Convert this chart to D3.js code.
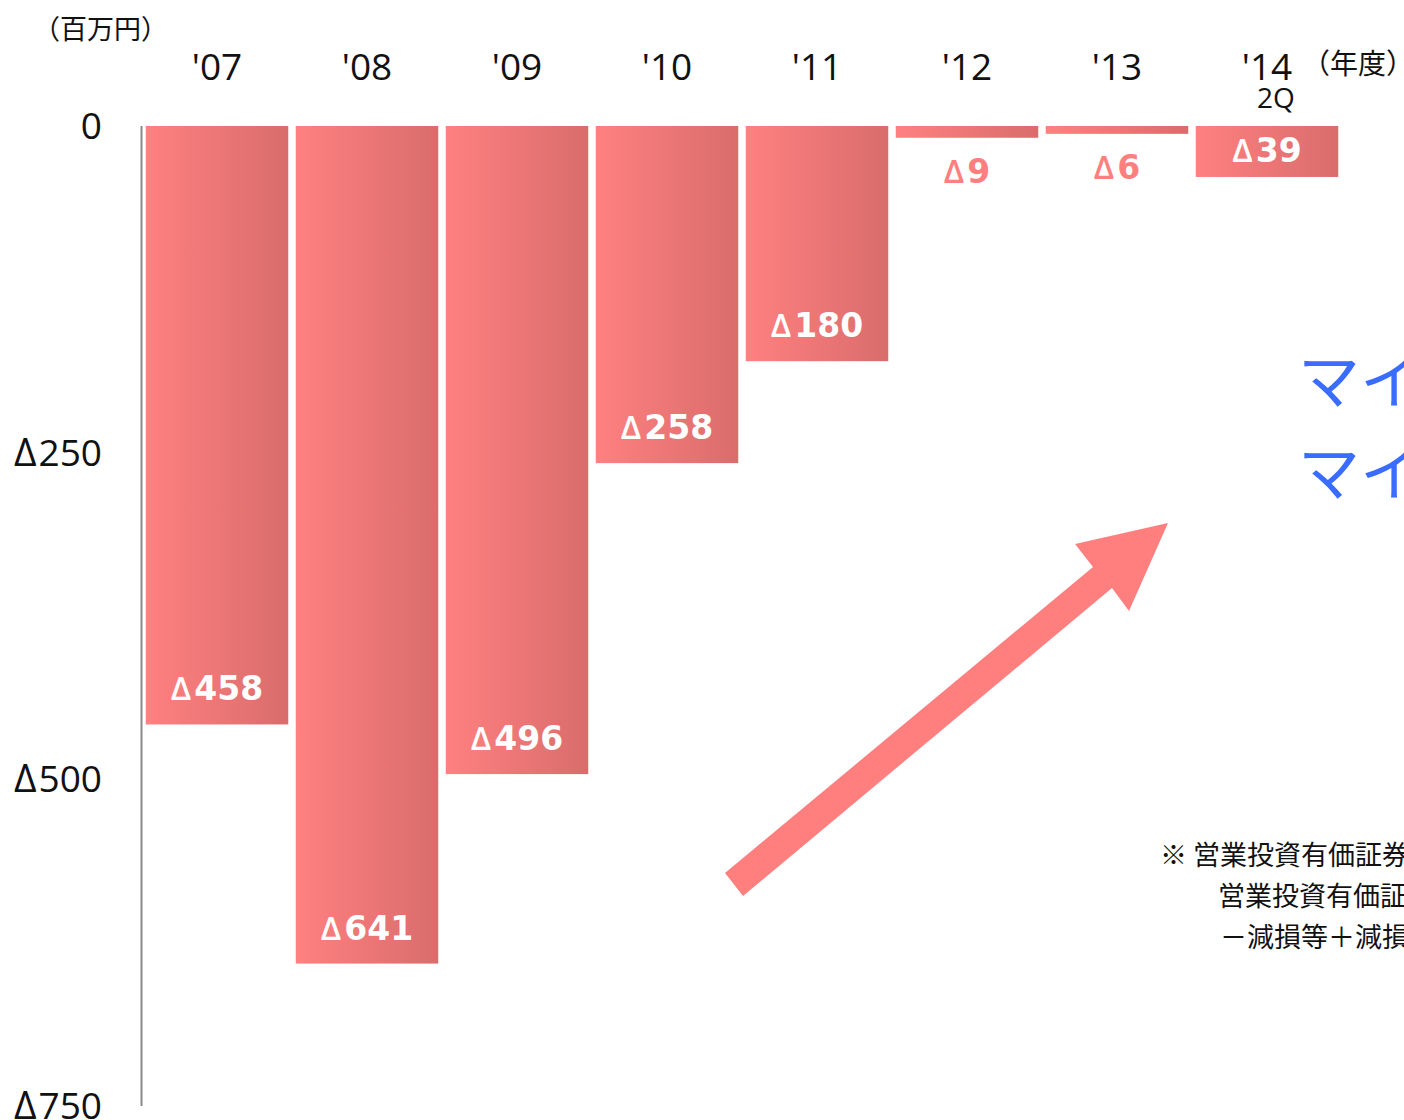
<!DOCTYPE html>
<html>
<head>
<meta charset="utf-8">
<script src="https://cdn.jsdelivr.net/npm/d3@7"></script>
<style>
  body { margin: 0; background: #fff; }
  svg { display: block; }
</style>
</head>
<body>
<script>
// data (losses, 百万円)
let years = ["'07", "'08", "'09", "'10", "'11", "'12", "'13", "'14"];
let losses = [458, 641, 496, 258, 180, 9, 6, 39];
let yTicks = [0, 250, 500, 750];
let noteLines = ["※ 営業投資有価証券損益＝", "営業投資有価証券売却益", "－減損等＋減損戻入益"];
let blueLines = ["マイナス幅は縮小", "マイナス解消へ"];

let W = 1404, H = 1120;
let jp = "'Noto Sans CJK JP', sans-serif";
let lat = "'Open Sans', 'Noto Sans', sans-serif";
let bold = "'DejaVu Sans', 'Open Sans', sans-serif";

let svg = d3.select("body").append("svg").attr("width", W).attr("height", H);

let defs = svg.append("defs");
let grad = defs.append("linearGradient").attr("id", "barGrad")
    .attr("x1", "0%").attr("x2", "100%").attr("y1", "0%").attr("y2", "0%");
grad.append("stop").attr("offset", "0%").attr("stop-color", "#ff8080");
grad.append("stop").attr("offset", "100%").attr("stop-color", "#d96d6c");

let x = d3.scaleBand()
    .domain(years)
    .range([142, 1342])
    .paddingInner(0.05)
    .paddingOuter(0.025);

let y = d3.scaleLinear()
    .domain([0, 750])
    .range([126, 1106]);

// bars
svg.selectAll("rect.bar")
    .data(losses)
    .enter().append("rect")
        .attr("class", "bar")
        .attr("x", (d, i) => x(years[i]))
        .attr("y", y(0))
        .attr("width", x.bandwidth())
        .attr("height", d => y(d) - y(0))
        .attr("fill", "url(#barGrad)");

// axis line
svg.append("line")
    .attr("x1", 141.5).attr("x2", 141.5)
    .attr("y1", y(0)).attr("y2", y(750))
    .attr("stroke", "#8a8a8a").attr("stroke-width", 2);

// y tick labels
let yLab = svg.selectAll("text.ytick")
    .data(yTicks)
    .enter().append("text")
        .attr("class", "ytick")
        .attr("x", 102)
        .attr("y", d => y(d) + 13)
        .attr("text-anchor", "end")
        .attr("font-family", lat)
        .attr("font-size", 37)
        .attr("fill", "#111");
yLab.filter(d => d !== 0).append("tspan").attr("font-size", 39).text("Δ");
yLab.append("tspan").attr("dx", d => d === 0 ? 0 : 2).text(d => d);

// year labels
svg.selectAll("text.year")
    .data(years)
    .enter().append("text")
        .attr("class", "year")
        .attr("x", d => x(d) + x.bandwidth() / 2)
        .attr("y", 80)
        .attr("text-anchor", "middle")
        .attr("font-family", lat)
        .attr("font-size", 37)
        .attr("fill", "#111")
        .text(d => d);

svg.append("text")
    .attr("x", x("'14") + x.bandwidth() / 2 + 9)
    .attr("y", 108)
    .attr("text-anchor", "middle")
    .attr("font-family", lat)
    .attr("font-size", 28)
    .attr("fill", "#111")
    .text("2Q");

svg.append("text")
    .attr("x", 33).attr("y", 39)
    .attr("font-family", jp).attr("font-size", 27).attr("fill", "#111")
    .text("（百万円）");

svg.append("text")
    .attr("x", 1302).attr("y", 74)
    .attr("font-family", jp).attr("font-size", 28).attr("fill", "#111")
    .text("（年度）");

// value labels: inside the bar in white, below it in pink when the bar is too thin
let valLabels = svg.selectAll("text.val")
    .data(losses)
    .enter().append("text")
        .attr("class", "val")
        .attr("x", (d, i) => x(years[i]) + x.bandwidth() / 2)
        .attr("y", d => {
            let h = y(d) - y(0);
            if (h < 30) return y(d) + 45;
            if (h < 60) return y(d) - 15;
            return y(d) - 24;
        })
        .attr("text-anchor", "middle")
        .attr("font-family", bold)
        .attr("font-weight", "bold")
        .attr("font-size", 33)
        .attr("fill", d => (y(d) - y(0)) < 30 ? "#ff7f7f" : "#fff");
valLabels.append("tspan").attr("font-size", 33).attr("font-family", lat).attr("font-weight", 600).text("Δ");
valLabels.append("tspan").attr("dx", 3).text(d => d);

// arrow
let arrowPts = [[725, 873], [1093, 567], [1075, 544], [1168, 523], [1129, 611], [1112, 588], [743, 896]];
svg.append("path")
    .attr("d", d3.line()(arrowPts) + "Z")
    .attr("fill", "#ff7f7f");

// blue annotation (runs off the right edge)
svg.selectAll("text.blue")
    .data(blueLines)
    .enter().append("text")
        .attr("class", "blue")
        .attr("x", 1298)
        .attr("y", (d, i) => 404 + i * 92)
        .attr("font-family", jp)
        .attr("font-size", 62)
        .attr("fill", "#3a6cff")
        .text(d => d);

// note
svg.selectAll("text.note")
    .data(noteLines)
    .enter().append("text")
        .attr("class", "note")
        .attr("x", (d, i) => i === 0 ? 1160 : (i === 1 ? 1218 : 1220))
        .attr("y", (d, i) => 865 + i * 41)
        .attr("font-family", jp)
        .attr("font-size", 27)
        .attr("fill", "#111")
        .text(d => d);
</script>
</body>
</html>
